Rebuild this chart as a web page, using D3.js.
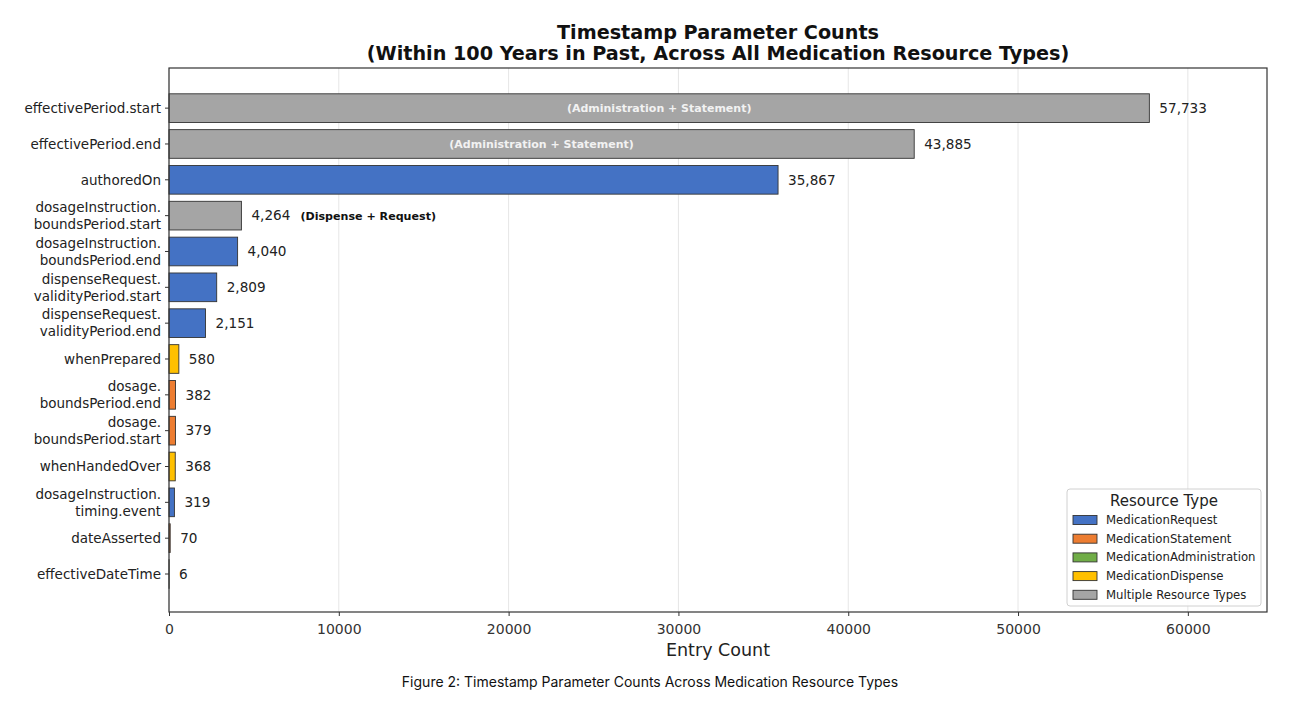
<!DOCTYPE html>
<html>
<head>
<meta charset="utf-8">
<script src="https://cdn.jsdelivr.net/npm/d3@7"></script>
<style>
  html, body { margin: 0; padding: 0; background: #fff; }
  svg { display: block; }
</style>
</head>
<body>
<svg id="chart" width="1296" height="714"></svg>
<script>
const categories = [
  "effectivePeriod.start",
  "effectivePeriod.end",
  "authoredOn",
  "dosageInstruction.\nboundsPeriod.start",
  "dosageInstruction.\nboundsPeriod.end",
  "dispenseRequest.\nvalidityPeriod.start",
  "dispenseRequest.\nvalidityPeriod.end",
  "whenPrepared",
  "dosage.\nboundsPeriod.end",
  "dosage.\nboundsPeriod.start",
  "whenHandedOver",
  "dosageInstruction.\ntiming.event",
  "dateAsserted",
  "effectiveDateTime"
];
const counts = [57733, 43885, 35867, 4264, 4040, 2809, 2151, 580, 382, 379, 368, 319, 70, 6];
const resourceTypes = [
  "Multiple Resource Types", "Multiple Resource Types", "MedicationRequest",
  "Multiple Resource Types", "MedicationRequest", "MedicationRequest", "MedicationRequest",
  "MedicationDispense", "MedicationStatement", "MedicationStatement", "MedicationDispense",
  "MedicationRequest", "MedicationStatement", "MedicationAdministration"
];
const innerNotes = ["(Administration + Statement)", "(Administration + Statement)", "", "", "", "", "", "", "", "", "", "", "", ""];
const outerNotes = ["", "", "", "(Dispense + Request)", "", "", "", "", "", "", "", "", "", ""];
const legendLabels = ["MedicationRequest", "MedicationStatement", "MedicationAdministration", "MedicationDispense", "Multiple Resource Types"];
const legendColors = ["#4472C4", "#ED7D31", "#70AD47", "#FFC000", "#A5A5A5"];
const xTicks = [0, 10000, 20000, 30000, 40000, 50000, 60000];

const svg = d3.select("#chart");
const L = 169, R = 1267, T = 68, B = 612;
const x = d3.scaleLinear().domain([0, d3.max(counts) * 1.12]).range([L, R]);
const y = d3.scaleLinear().domain([-1.12, categories.length - 1 + 1.06]).range([T, B]);
const color = d3.scaleOrdinal().domain(legendLabels).range(legendColors);
const bh = y(0.4) - y(-0.4);
const font = "DejaVu Sans, sans-serif";
const fmt = d3.format(",");

// grid
svg.append("g").selectAll("line").data(xTicks).join("line")
  .attr("x1", d => x(d)).attr("x2", d => x(d)).attr("y1", T).attr("y2", B)
  .attr("stroke", "#e6e6e6").attr("stroke-width", 1);

// bars
svg.append("g").selectAll("rect").data(counts).join("rect")
  .attr("x", x(0))
  .attr("y", (d, i) => y(i) - bh / 2)
  .attr("width", d => x(d) - x(0))
  .attr("height", bh)
  .attr("fill", (d, i) => color(resourceTypes[i]))
  .attr("stroke", "#333").attr("stroke-width", 0.9);

// value labels
svg.append("g").selectAll("text").data(counts).join("text")
  .attr("x", d => x(d) + 10)
  .attr("y", (d, i) => y(i))
  .attr("dy", "0.35em")
  .attr("font-family", font).attr("font-size", 13.6).attr("fill", "#222")
  .text(d => fmt(d));

// inner notes
svg.append("g").selectAll("text").data(counts).join("text")
  .attr("x", d => x(d / 2))
  .attr("y", (d, i) => y(i))
  .attr("dy", "0.35em")
  .attr("text-anchor", "middle")
  .attr("font-family", font).attr("font-size", 11).attr("font-weight", "bold").attr("fill", "#f2f2f2")
  .text((d, i) => innerNotes[i]);

// outer notes
svg.append("g").selectAll("text").data(counts).join("text")
  .attr("x", d => x(d) + 59)
  .attr("y", (d, i) => y(i))
  .attr("dy", "0.35em")
  .attr("font-family", font).attr("font-size", 11.1).attr("font-weight", "bold").attr("fill", "#111")
  .text((d, i) => outerNotes[i]);

// frame
svg.append("rect").attr("x", L).attr("y", T).attr("width", R - L).attr("height", B - T)
  .attr("fill", "none").attr("stroke", "#333").attr("stroke-width", 1.2);

// x axis
const xAxis = svg.append("g").attr("transform", `translate(0,${B})`)
  .call(d3.axisBottom(x).tickValues(xTicks).tickFormat(d3.format("d")).tickSize(4).tickSizeOuter(0));
xAxis.select(".domain").remove();
xAxis.selectAll("line").attr("stroke", "#333");
xAxis.selectAll("text").attr("font-family", font).attr("font-size", 14).attr("fill", "#333").attr("dy", "1.05em");

// y axis ticks
const yg = svg.append("g");
categories.forEach((c, i) => {
  yg.append("line").attr("x1", L - 4).attr("x2", L).attr("y1", y(i)).attr("y2", y(i)).attr("stroke", "#333");
  const lines = c.split("\n");
  const t = yg.append("text").attr("text-anchor", "end")
    .attr("font-family", font).attr("font-size", 13.5).attr("fill", "#222");
  lines.forEach((ln, k) => {
    t.append("tspan").attr("x", L - 8)
      .attr("y", y(i) + (k - (lines.length - 1) / 2) * 17)
      .attr("dy", "0.35em").text(ln);
  });
});

// axis label
svg.append("text").attr("x", (L + R) / 2).attr("y", 656).attr("text-anchor", "middle")
  .attr("font-family", font).attr("font-size", 17.5).attr("fill", "#222").text("Entry Count");

// title
svg.append("text").attr("x", (L + R) / 2).attr("y", 39).attr("text-anchor", "middle")
  .attr("font-family", font).attr("font-size", 19.2).attr("font-weight", "bold").attr("fill", "#111")
  .text("Timestamp Parameter Counts");
svg.append("text").attr("x", (L + R) / 2).attr("y", 60).attr("text-anchor", "middle")
  .attr("font-family", font).attr("font-size", 19.2).attr("font-weight", "bold").attr("fill", "#111")
  .text("(Within 100 Years in Past, Across All Medication Resource Types)");

// legend
const lg = svg.append("g").attr("transform", "translate(1067,489)");
lg.append("rect").attr("width", 194).attr("height", 117).attr("rx", 3)
  .attr("fill", "#fff").attr("fill-opacity", 0.85).attr("stroke", "#d0d0d0");
lg.append("text").attr("x", 97).attr("y", 17).attr("text-anchor", "middle")
  .attr("font-family", font).attr("font-size", 15).attr("fill", "#222").text("Resource Type");
legendLabels.forEach((l, i) => {
  const yy = 31 + i * 18.7;
  lg.append("rect").attr("x", 6).attr("y", yy - 4.5).attr("width", 24).attr("height", 9)
    .attr("fill", legendColors[i]).attr("stroke", "#333").attr("stroke-width", 0.9);
  lg.append("text").attr("x", 39).attr("y", yy).attr("dy", "0.35em")
    .attr("font-family", font).attr("font-size", 11.7).attr("fill", "#222").text(l);
});

// caption
svg.append("text").attr("x", 650).attr("y", 687).attr("text-anchor", "middle")
  .attr("font-family", "Inter, Roboto, sans-serif").attr("font-size", 14).attr("fill", "#111")
  .text("Figure 2: Timestamp Parameter Counts Across Medication Resource Types");
</script>
</body>
</html>
